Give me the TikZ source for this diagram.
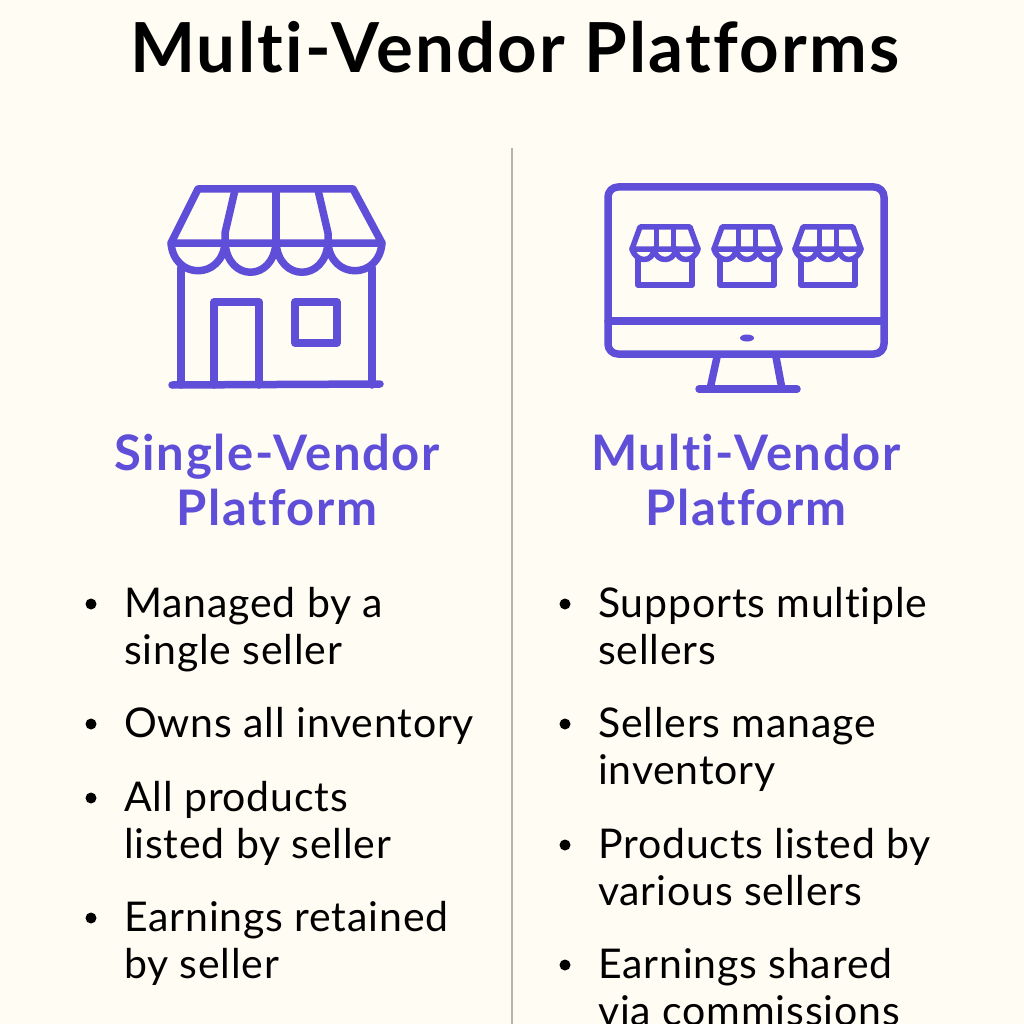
\documentclass[tikz,border=0pt]{standalone}
\usepackage{fontspec}
\setmainfont[Ligatures=NoCommon,LetterSpace=2,BoldFeatures={LetterSpace=3.3}]{Lato}
\usetikzlibrary{shapes.geometric}
\definecolor{paper}{HTML}{FFFCF3}
\definecolor{violet}{HTML}{5F4FD8}
\definecolor{rule}{HTML}{B6B4AC}
\tikzstyle{title} = [font=\fontsize{69}{69}\selectfont\bfseries,text=black,inner sep=0pt]
\tikzstyle{heading} = [font=\fontsize{49}{55}\selectfont\bfseries,text=violet,align=center,inner sep=0pt]
\tikzstyle{item} = [font=\fontsize{41}{47}\selectfont,text=black,align=left,inner sep=0pt,anchor=north west]
\tikzstyle{dot} = [circle,fill=black,inner sep=0pt,minimum size=11pt]
\tikzstyle{icon} = [draw=violet,line width=7.5pt,line cap=round,line join=round]
\tikzstyle{thin} = [draw=violet,line width=5.5pt,line cap=round,line join=round]
\tikzset{
	minishop/.pic={
		\draw[thin] (-33,22) -- (-25,0) -- (25,0) -- (33,22) -- cycle;
		\draw[thin] (-8.5,0) -- (-8.5,22) (8.5,0) -- (8.5,22);
		\draw[thin] (-33,22) .. controls (-29,36) and (-12,36) .. (-11,22)
			.. controls (-9,36) and (9,36) .. (11,22)
			.. controls (12,36) and (29,36) .. (33,22);
		\draw[thin] (-27,31) -- (-27,58) -- (27,58) -- (27,31);
	}
}
\begin{document}
\begin{tikzpicture}[x=1pt,y=-1pt]
	\useasboundingbox[fill=paper] (0,0) rectangle (1024,1024);
	\node[title] (head) at (515,47) {Multi-Vendor Platforms};
	\coordinate (r1) at (512,148);
	\coordinate (r2) at (512,1024);
	\draw[rule,line width=2.5pt] (r1) -- (r2);

	% left shop
	\draw[icon] (198,189) -- (353,189) -- (382,243) -- (171,243) -- cycle;
	\draw[icon] (235,190) -- (225,233) -- (225,243);
	\draw[icon] (276,189) -- (276,243);
	\draw[icon] (318,190) -- (328,233) -- (328,243);
	\draw[icon] (171,243) .. controls (174,280) and (222,280) .. (225,243)
		.. controls (228,282) and (273,282) .. (276,243)
		.. controls (279,282) and (325,282) .. (328,243)
		.. controls (331,280) and (379,280) .. (382,243);
	\draw[icon] (181,268) -- (181,385);
	\draw[icon] (372,268) -- (372,385);
	\draw[icon] (172,385) -- (380,384);
	\draw[icon] (214,385) -- (214,302) -- (259,302) -- (259,385);
	\draw[icon] (295,302) rectangle (337,343);

	% right monitor
	\draw[icon,rounded corners=10pt] (608,187) rectangle (884,354);
	\draw[icon] (608,321) -- (884,321);
	\node[ellipse,fill=violet,minimum width=14pt,minimum height=7pt,inner sep=0pt] (led) at (747,338) {};
	\draw[icon] (717,357) -- (710,389);
	\draw[icon] (776,357) -- (782,389);
	\draw[icon] (699,389) -- (797,389);
	\foreach \x in {665,747,828}
		\pic at (\x,227) {minishop};

	\node[heading] (h1) at (277,480) {Single-Vendor\\Platform};
	\node[heading] (h2) at (746,480) {Multi-Vendor\\Platform};

	% left list
	\node[item] (a1) at (124,587) {Managed by a\\single seller};
	\node[item] (a2) at (124,707) {Owns all inventory};
	\node[item] (a3) at (124,781) {All products\\listed by seller};
	\node[item] (a4) at (124,901) {Earnings retained\\by seller};
	\node[dot] (d1) at (91,604) {};
	\node[dot] (d2) at (91,724) {};
	\node[dot] (d3) at (91,798) {};
	\node[dot] (d4) at (91,918) {};

	% right list
	\node[item] (b1) at (598,587) {Supports multiple\\sellers};
	\node[item] (b2) at (598,707) {Sellers manage\\inventory};
	\node[item] (b3) at (598,828) {Products listed by\\various sellers};
	\node[item] (b4) at (598,948) {Earnings shared\\via commissions};
	\node[dot] (e1) at (565,604) {};
	\node[dot] (e2) at (565,724) {};
	\node[dot] (e3) at (565,845) {};
	\node[dot] (e4) at (565,965) {};
\end{tikzpicture}
\end{document}
